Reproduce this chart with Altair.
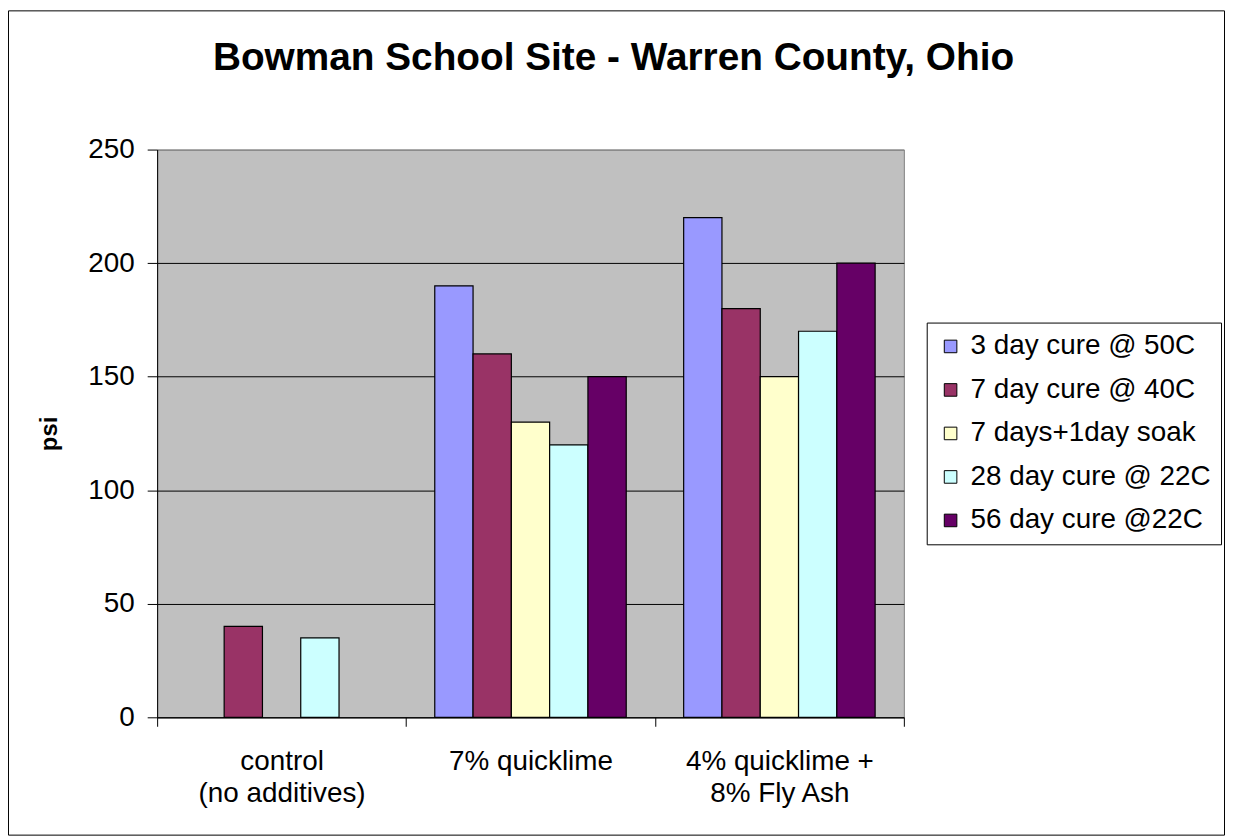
import altair as alt
import pandas as pd
import json

title_text = "Bowman School Site - Warren County, Ohio"
categories = ["control (no additives)", "7% quicklime", "4% quicklime + 8% Fly Ash"]
category_lines = [["control", "(no additives)"], ["7% quicklime"], ["4% quicklime +", "8% Fly Ash"]]

series = ["3 day cure @ 50C", "7 day cure @ 40C", "7 days+1day soak",
          "28 day cure @ 22C", "56 day cure @22C"]
colors = ["#9999FF", "#993366", "#FFFFCC", "#CCFFFF", "#660066"]

cure_3d_50c = [None, 190, 220]
cure_7d_40c = [40, 160, 180]
cure_7d_soak = [None, 130, 150]
cure_28d_22c = [35, 120, 170]
cure_56d_22c = [None, 150, 200]

y_ticks = [0, 50, 100, 150, 200, 250]

all_vals = [cure_3d_50c, cure_7d_40c, cure_7d_soak, cure_28d_22c, cure_56d_22c]
rows = []
for s, vals in zip(series, all_vals):
    for c, v in zip(categories, vals):
        if v is not None:
            rows.append({"category": c, "series": s, "psi": v})
df = pd.DataFrame(rows)

# label expression for multi-line category labels
expr = "datum.label"
for c, lines in reversed(list(zip(categories, category_lines))):
    expr = f"datum.label == {json.dumps(c)} ? {json.dumps(lines)} : ({expr})"

FONT = "Liberation Sans"
W, H = 751, 571
PL, PT, PR, PB = 150, 140, 323, 119

bars = alt.Chart(df).mark_bar(stroke="black", strokeWidth=1.2).encode(
    x=alt.X("category:N", sort=categories,
            scale=alt.Scale(domain=categories, paddingInner=0, paddingOuter=0),
            axis=alt.Axis(title=None, labelAngle=0, labelFont=FONT, labelFontSize=28,
                          labelColor="black", labelLineHeight=33, labelBaseline="top",
                          labelPadding=21, labelLimit=500, tickBand="extent", tickSize=9,
                          tickColor="black", domainColor="black", labelExpr=expr)),
    xOffset=alt.XOffset("series:N", sort=series,
                        scale=alt.Scale(domain=series, paddingInner=0, paddingOuter=0.75)),
    y=alt.Y("psi:Q", scale=alt.Scale(domain=[0, 250], nice=False),
            axis=alt.Axis(values=y_ticks, title="psi", labelFont=FONT, labelFontSize=28,
                          labelColor="black", tickColor="black", tickSize=10,
                          domainColor="black",
                          gridColor={"condition": {"test": "datum.value >= 250", "value": "#808080"},
                                     "value": "black"},
                          labelPadding=13,
                          titleFont=FONT, titleFontSize=24, titleFontWeight="bold",
                          titleColor="black", titlePadding=26)),
    color=alt.Color("series:N", sort=series,
                    scale=alt.Scale(domain=series, range=colors),
                    legend=alt.Legend(title=None, orient="none", legendX=774, legendY=174,
                                      strokeColor="black", fillColor="white", padding=10,
                                      labelFont=FONT, labelFontSize=28, labelColor="black",
                                      symbolType="square", symbolSize=160,
                                      symbolStrokeColor="black", symbolStrokeWidth=1,
                                      rowPadding=15.75, labelOffset=6, labelLimit=500)),
)

border = alt.Chart(pd.DataFrame({"k": [0]})).mark_rect(
    fillOpacity=0, stroke="black", strokeWidth=1
).encode(
    x=alt.value(-PL + 0.5), x2=alt.value(W + PR - 0.5),
    y=alt.value(-PT + 0.5), y2=alt.value(H + PB - 0.5),
)

title = alt.Chart(pd.DataFrame({"t": [title_text]})).mark_text(
    font=FONT, fontSize=39, fontWeight="bold", color="black",
    align="center", baseline="alphabetic"
).encode(
    text="t:N", x=alt.value(459), y=alt.value(-80),
)

chart = alt.layer(border, bars, title).properties(
    width=W, height=H,
    padding={"left": PL, "top": PT, "right": PR, "bottom": PB},
    autosize=alt.AutoSizeParams(type="none"),
).configure(background="white").configure_view(fill="#C0C0C0", stroke="#808080", strokeWidth=1)

chart.save("out.html", embed_options={"renderer": "svg", "actions": False})
